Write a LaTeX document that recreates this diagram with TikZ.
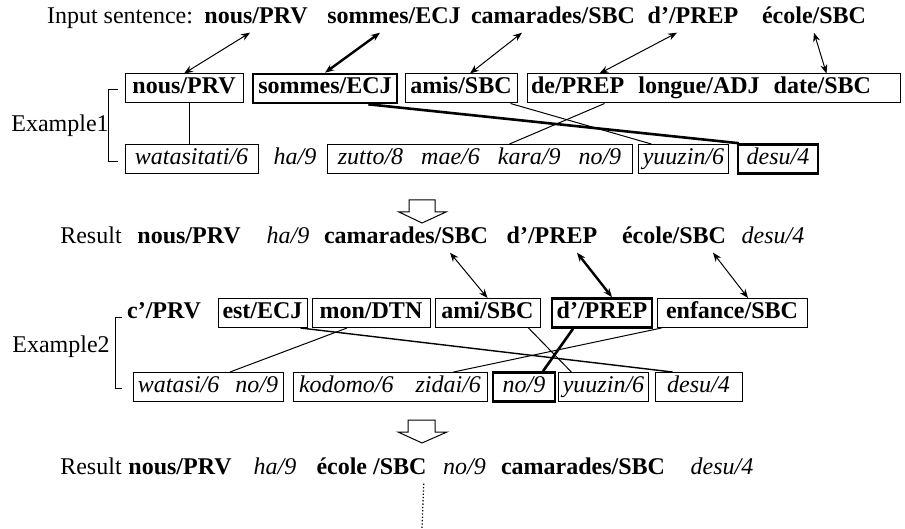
\documentclass[tikz,border=0pt]{standalone}
\usepackage{fontspec}
\setmainfont{Liberation Serif}
\usetikzlibrary{arrows.meta,positioning}

\begin{document}
\begin{tikzpicture}
	[x=1pt, y=-1pt, font=\fontsize{24}{27}\selectfont, inner sep=0pt,
	word/.style	= {text height=16pt, text depth=5pt, inner xsep=4pt, inner ysep=4pt},
	chunk/.style	= {word, draw, line width=1pt},
	headchunk/.style	= {chunk, line width=2.6pt},
	link/.style	= {line width=1pt},
	headlink/.style	= {line width=2.6pt},
	match/.style	= {<->, >={Stealth[length=9pt, width=7pt]}, line width=1pt},
	headmatch/.style	= {match, line width=2.4pt}]
	
	\useasboundingbox (0,0) rectangle (905,529);
	
	% input sentence
	\node at (120,18)	[word]	(intro)	{Input sentence:};
	\node at (256,18)	[word]	(in1)	{\textbf{nous/PRV}};
	\node at (394,18)	[word]	(in2)	{\textbf{sommes/ECJ}};
	\node at (553,18)	[word]	(in3)	{\textbf{camarades/SBC}};
	\node at (693,18)	[word]	(in4)	{\textbf{d'/PREP}};
	\node at (814,18)	[word]	(in5)	{\textbf{école/SBC}};
	
	% example 1
	\node at (60,126)	[word]	(ex1)	{Example1};
	\draw [link] (118,90) -- (108,90) -- (108,162) -- (118,162);
	
	\node at (184,88.5)	[chunk, minimum width=118pt]	(a1)	{\textbf{nous/PRV}};
	\node at (325,88.5)	[headchunk, minimum width=144pt]	(a2)	{\textbf{sommes/ECJ}};
	\node at (461,88.5)	[chunk, minimum width=112pt]	(a3)	{\textbf{amis/SBC}};
	\node at (713.5,88.5)	[chunk, text width=365pt, align=left]	(a4)	{\textbf{de/PREP\hspace{14pt}longue/ADJ\hspace{14pt}date/SBC}};
	
	\node at (191.5,159)	[chunk, minimum width=133pt]	(b1)	{\textit{watasitati/6}};
	\node at (295,159)	[word]	(b2)	{\textit{ha/9}};
	\node at (479.5,159)	[chunk, minimum width=305pt]	(b3)	{\textit{zutto/8\hspace{18pt}mae/6\hspace{18pt}kara/9\hspace{18pt}no/9}};
	\node at (683.5,159)	[chunk, minimum width=87pt]	(b4)	{\textit{yuuzin/6}};
	\node at (778,159)	[headchunk, minimum width=80pt]	(b5)	{\textit{desu/4}};
	
	\draw [match] ([xshift=-6pt]in1.south) -- (a1.north);
	\draw [headmatch] ([xshift=-14pt]in2.south) -- (a2.north);
	\draw [match] ([xshift=-31pt]in3.south) -- ([xshift=9pt]a3.north);
	\draw [match] ([xshift=-16pt]in4.south) -- ([xshift=73pt]a4.north west);
	\draw [match] (in5.south) -- ([xshift=300pt]a4.north west);
	
	\draw [link] ([xshift=5pt]a1.south) -- ([xshift=-2.5pt]b1.north);
	\draw [headlink] ([xshift=-30pt]a2.south east) -- ([xshift=2pt]b5.north west);
	\draw [link] ([xshift=-7pt]a3.south east) -- ([xshift=13pt]b4.north west);
	\draw [link] ([xshift=78pt]a4.south west) -- ([xshift=30pt]b3.north);
	
	\draw [link] (409,200) -- (435,200) -- (435,212) -- (446,212) -- (422,223) -- (399,212) -- (409,212) -- cycle;
	
	% result 1
	\node at (91,238)	[word]	(res1)	{Result};
	\node at (189,238)	[word]	(rn1)	{\textbf{nous/PRV}};
	\node at (288,238)	[word]	(rh1)	{\textit{ha/9}};
	\node at (406,238)	[word]	(rc1)	{\textbf{camarades/SBC}};
	\node at (552,238)	[word]	(rd1)	{\textbf{d'/PREP}};
	\node at (674,238)	[word]	(re1)	{\textbf{école/SBC}};
	\node at (773,238)	[word]	(rs1)	{\textit{desu/4}};
	
	% example 2
	\node at (61,347)	[word]	(ex2)	{Example2};
	\draw [link] (122,318) -- (115,318) -- (115,388) -- (122,388);
	
	\node at (164,313)	[word]	(c1)	{\textbf{c'/PRV}};
	\node at (262.5,313)	[chunk, minimum width=89pt]	(c2)	{\textbf{est/ECJ}};
	\node at (371,313)	[chunk, minimum width=118pt]	(c3)	{\textbf{mon/DTN}};
	\node at (487.5,313)	[chunk, minimum width=105pt]	(c4)	{\textbf{ami/SBC}};
	\node at (602,313)	[headchunk, minimum width=100pt]	(c5)	{\textbf{d'/PREP}};
	\node at (732,313)	[chunk, minimum width=150pt]	(c6)	{\textbf{enfance/SBC}};
	
	\node at (208,387)	[chunk, minimum width=150pt]	(d1)	{\textit{watasi/6\hspace{16pt}no/9}};
	\node at (390,387)	[chunk, minimum width=194pt]	(d2)	{\textit{kodomo/6\hspace{22pt}zidai/6}};
	\node at (524,387)	[headchunk, minimum width=62pt]	(d3)	{\textit{no/9}};
	\node at (603.5,387)	[chunk, minimum width=87pt]	(d4)	{\textit{yuuzin/6}};
	\node at (698.5,387)	[chunk, minimum width=87pt]	(d5)	{\textit{desu/4}};
	
	\draw [match] ([xshift=44pt]rc1.south) -- (c4.north);
	\draw [headmatch] ([xshift=25pt]rd1.south) -- ([xshift=10pt]c5.north);
	\draw [match] ([xshift=39pt]re1.south) -- ([xshift=16pt]c6.north);
	
	\draw [line width=1.4pt] ([xshift=-7pt]c2.south east) -- ([xshift=18pt]d5.north west);
	\draw [link] ([xshift=-24pt]c3.south) -- ([xshift=22pt]d1.north);
	\draw [link] ([xshift=-12pt]c4.south east) -- ([xshift=13pt]d4.north west);
	\draw [headlink] ([xshift=-29pt]c5.south) -- ([xshift=19pt]d3.north);
	\draw [link] ([xshift=5pt]c6.south west) -- ([xshift=-34pt]d2.north east);
	
	\draw [link] (408,420) -- (435,420) -- (435,432) -- (447,432) -- (422,443) -- (398,432) -- (408,432) -- cycle;
	
	% result 2
	\node at (91,469)	[word]	(res2)	{Result};
	\node at (180,469)	[word]	(rn2)	{\textbf{nous/PRV}};
	\node at (275,469)	[word]	(rh2)	{\textit{ha/9}};
	\node at (371.5,469)	[word]	(re2)	{\textbf{école /SBC}};
	\node at (464.5,469)	[word]	(rno2)	{\textit{no/9}};
	\node at (583,469)	[word]	(rc2)	{\textbf{camarades/SBC}};
	\node at (722,469)	[word]	(rs2)	{\textit{desu/4}};
	
	\coordinate (tail) at (422,529);
	\draw [dotted, line width=1.3pt] ([xshift=-7pt]re2.south east) -- (tail);
\end{tikzpicture}
\end{document}
